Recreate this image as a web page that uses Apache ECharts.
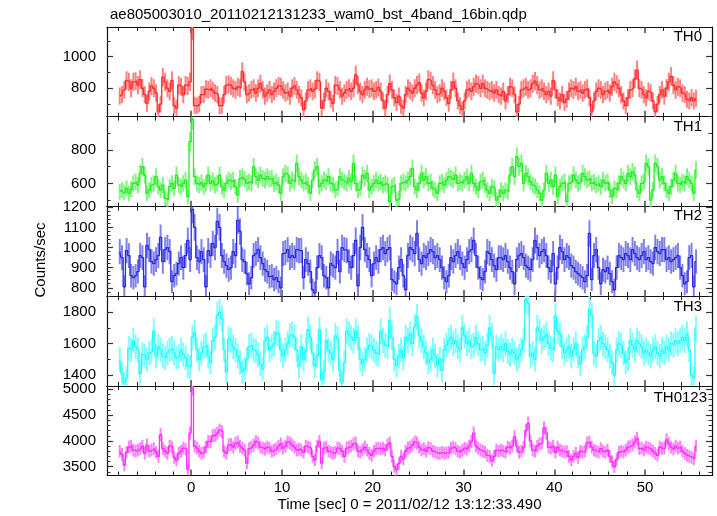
<!DOCTYPE html>
<html><head><meta charset="utf-8">
<script src="https://cdn.jsdelivr.net/npm/echarts@6/dist/echarts.min.js"></script>
<style>html,body{margin:0;padding:0;background:#fff}#c{width:717px;height:516px}</style>
</head><body><div id="c"></div>
<script>
// ---- data (counts/sec, 0.25 s bins starting at t = -8 s) ----
const binStart = -8.0;
const binWidth = 0.25;
const th0 = [
750,760,790,850,840,800,840,845,820,855,800,760,705,780,815,800,
770,650,700,870,840,800,780,850,690,675,820,810,760,820,815,840,
1175,690,690,700,760,760,795,790,800,785,770,760,690,690,760,820,
825,815,800,790,810,800,905,840,760,770,790,800,770,800,830,790,
750,770,790,760,780,800,815,810,790,770,780,750,800,815,790,760,
740,665,720,790,800,780,795,850,840,675,720,800,780,730,705,820,
815,790,750,770,790,800,780,800,885,820,780,760,790,810,795,800,
780,790,805,780,720,675,760,830,790,740,710,750,690,675,760,800,
785,770,800,820,835,770,740,780,855,845,820,790,760,770,800,780,
740,705,790,840,800,720,690,665,720,790,800,780,810,830,820,800,
830,800,790,780,790,770,790,760,750,780,720,760,810,800,760,650,
700,790,800,810,790,800,830,845,820,790,800,780,760,780,750,850,
790,740,720,760,710,730,780,800,790,810,780,790,770,790,800,740,
650,720,780,800,790,760,780,790,770,810,840,825,800,760,720,690,
740,790,800,860,915,800,790,760,740,780,770,720,650,700,760,790,
750,800,840,875,820,790,810,800,770,760,730,720,740,720,735];
const th1 = [
550,560,545,570,540,565,600,610,590,660,700,650,540,560,590,600,
640,580,560,590,510,500,580,600,570,650,590,580,600,620,520,850,
985,640,600,590,605,580,600,650,600,615,590,600,650,580,560,600,
620,610,620,580,530,630,640,625,600,610,600,700,640,620,650,630,
620,640,625,630,600,610,590,540,640,660,650,600,620,610,720,640,
620,600,610,590,540,620,680,700,580,600,620,610,640,600,590,560,
570,640,620,610,600,630,610,720,600,560,570,650,630,660,560,580,
600,620,600,610,590,600,590,490,580,590,500,510,600,610,600,620,
640,690,580,560,600,660,620,640,600,610,570,560,540,600,610,590,
620,640,630,620,650,600,610,600,620,640,600,660,600,580,560,610,
620,590,560,540,580,570,500,520,560,540,560,550,650,700,640,760,
700,720,600,660,640,610,590,580,560,540,500,560,660,600,620,580,
650,520,580,600,610,490,600,610,650,620,600,610,660,640,620,630,
600,610,590,600,580,620,600,610,560,520,570,560,600,640,620,600,
660,640,670,650,560,540,600,610,720,700,500,560,720,700,620,640,
600,560,540,580,620,660,600,590,610,600,640,620,600,540,680];
const th2 = [
980,950,805,985,960,860,850,860,880,960,950,805,1010,990,930,920,
940,960,1050,930,990,1000,980,830,860,870,920,950,900,960,1035,940,
1190,1100,950,930,980,940,805,985,960,1020,1000,1130,1100,960,930,910,
890,900,980,960,1135,1080,940,930,870,820,850,960,970,990,950,920,
890,880,855,860,840,850,830,800,970,975,990,950,960,950,990,985,
985,850,940,920,880,790,775,900,960,950,860,850,800,920,910,900,
980,880,1000,990,985,930,900,960,1035,810,1000,1100,990,960,940,860,
920,950,930,990,1000,970,990,1000,840,830,820,900,940,860,790,960,
1000,990,970,1070,940,920,960,950,970,990,980,950,960,940,900,850,
830,860,950,930,960,980,950,920,900,940,980,990,1035,960,900,850,
840,880,980,970,940,910,890,950,950,940,960,930,900,880,820,940,
960,970,950,910,900,890,940,1035,1000,960,980,990,960,900,880,970,
820,900,1000,980,940,960,950,910,900,880,870,860,850,830,860,1070,
840,960,990,900,820,890,880,900,870,830,790,900,960,950,940,970,
960,940,990,970,950,940,960,980,940,950,930,920,1000,980,970,990,
990,940,950,930,940,950,960,900,860,820,830,950,960,805,930];
const th3 = [
1500,1410,1350,1380,1570,1560,1620,1580,1560,1410,1530,1520,1500,1540,1550,1680,
1520,1580,1560,1520,1510,1540,1560,1570,1540,1510,1520,1560,1530,1510,1460,1450,
1640,1670,1560,1500,1540,1580,1590,1520,1480,1620,1640,1780,1800,1760,1560,1420,
1630,1620,1580,1560,1520,1480,1420,1440,1500,1580,1590,1560,1550,1530,1470,1440,
1620,1640,1560,1580,1600,1670,1660,1560,1520,1560,1600,1650,1660,1640,1560,1455,
1580,1500,1560,1690,1640,1540,1455,1520,1690,1370,1420,1620,1560,1540,1500,1650,
1630,1430,1350,1480,1680,1660,1640,1620,1680,1640,1500,1470,1500,1560,1590,1580,
1560,1540,1530,1680,1620,1590,1580,1750,1640,1500,1460,1520,1560,1510,1640,1620,
1660,1600,1710,1770,1650,1620,1580,1540,1480,1500,1560,1520,1460,1500,1430,1560,
1590,1620,1640,1600,1620,1580,1560,1700,1650,1600,1620,1580,1590,1640,1600,1560,
1570,1540,1590,1700,1650,1410,1580,1560,1580,1560,1600,1550,1530,1560,1540,1500,
1520,1560,1620,1880,1860,1520,1540,1500,1700,1680,1620,1640,1660,1600,1570,1560,
1775,1680,1660,1580,1540,1560,1580,1520,1560,1600,1520,1470,1560,1580,1640,1820,
1780,1540,1520,1620,1640,1600,1580,1560,1520,1480,1400,1560,1600,1590,1540,1480,
1500,1620,1590,1560,1620,1600,1580,1540,1560,1540,1520,1560,1580,1540,1520,1560,
1540,1580,1560,1600,1590,1620,1600,1620,1640,1620,1660,1560,1400,1380,1700];
const th0123 = [
3800,3740,3530,3780,3880,3900,3820,3800,3820,3850,3900,3760,3920,3800,3820,3850,
3780,3700,4120,3850,3800,3760,3900,3880,3680,3630,3760,3800,3860,3840,3450,4150,
5020,3900,3860,3800,3760,3780,3880,3990,3980,4100,4110,4150,4210,4180,3800,3760,
3920,3930,3880,3950,3980,3900,3860,3820,3570,3850,3880,3920,3990,3960,3880,3860,
3840,3880,3860,3800,3820,3850,3900,3940,3860,3900,3980,3960,3920,3880,3820,3840,
3820,3780,3900,3880,3860,3700,3630,3900,3990,3570,3860,3880,3800,3780,3760,3780,
3860,3850,3800,3700,3860,3880,3900,3940,3960,3800,3780,3830,3880,3820,3760,3720,
3800,3850,3860,3840,3860,3820,3920,3960,3700,3500,3440,3560,3700,3650,3800,3860,
3880,3920,3980,3960,3880,3820,3850,3800,3870,3850,3800,3780,3760,3760,3780,3760,
3770,3780,3860,3880,3850,3800,3780,3820,3860,3840,3900,3990,4150,3900,3860,3820,
3800,3780,3720,3700,3620,3700,3820,3800,3820,3800,3780,3880,3860,3900,4080,3900,
3780,3800,3880,4200,4340,4000,3820,3800,3900,3940,3960,4250,4150,3880,3860,3900,
3780,3880,3820,3800,3780,3800,3700,3630,3700,3760,3680,3800,3780,3800,3960,3980,
3880,3820,3800,3780,3850,3800,3780,3820,3700,3600,3500,3640,3780,3800,3780,3820,
3880,3900,3920,3980,4050,3850,3860,3820,3880,3860,3840,3800,3760,3720,3880,3850,
3860,4020,3950,3880,3840,3900,3860,3880,3800,3760,3720,3700,3680,3650,3900];

const panelNames = ['TH0', 'TH1', 'TH2', 'TH3', 'TH0123'];
const panelSeries = [th0, th1, th2, th3, th0123];
const xTickLabels = [0, 10, 20, 30, 40, 50];
const yTickLabels = [
  [800, 1000],
  [600, 800],
  [800, 900, 1000, 1100, 1200],
  [1400, 1600, 1800],
  [3500, 4000, 4500, 5000]
];

// ---- layout / style ----
const titleText = 'ae805003010_20110212131233_wam0_bst_4band_16bin.qdp';
const xTitle = 'Time [sec] 0 = 2011/02/12 13:12:33.490';
const yTitle = 'Counts/sec';
const FONT = '"Liberation Sans", Arial, Helvetica, sans-serif';
const xRange = [-9.28, 57.38];
const yRanges = [[620, 1188], [460, 1000], [759, 1203], [1330, 1904], [3330, 5064]];
const yMinorStep = [100, 100, 20, 100, 100];
const xMinorStep = 2;
const gridTops = [27, 116.7, 206.7, 296, 386];
const gridHeights = [89.7, 90, 89.3, 90, 89.5];
const lineColors = ['#ff2a2a', '#22ee22', '#2a2ae0', '#22ffff', '#ff2aff'];
const errColors = ['#ff8080', '#80f580', '#8080ec', '#80ffff', '#ff80ff'];
const labelPos = [[702, 29], [702, 119], [702, 208], [702, 299], [707, 390]];

function stepTicks(lo, hi, step, exclude) {
  const out = [];
  for (let v = Math.ceil(lo / step) * step; v <= hi + 1e-9; v += step) {
    const r = Math.round(v * 1000) / 1000;
    if (!exclude.includes(r)) out.push(r);
  }
  return out;
}
const xMinor = stepTicks(xRange[0], xRange[1], xMinorStep, xTickLabels);
const plain = v => String(v);

const grids = [], xAxes = [], yAxes = [], series = [];
const AX = { lineStyle: { color: '#111', width: 1.2 } };

panelSeries.forEach((vals, g) => {
  grids.push({ left: 107, right: 5, top: gridTops[g], height: gridHeights[g] });
  const yMinor = stepTicks(yRanges[g][0], yRanges[g][1], yMinorStep[g], yTickLabels[g]);
  const base = { gridIndex: g, type: 'value', min: xRange[0], max: xRange[1], splitLine: { show: false } };
  const isBottom = g === panelSeries.length - 1;
  xAxes.push(Object.assign({}, base, {
    position: 'bottom',
    axisLine: Object.assign({ show: true, onZero: false }, AX),
    axisTick: { show: true, inside: true, length: 6, customValues: xTickLabels, lineStyle: { color: '#444', width: 1.5 } },
    axisLabel: { show: isBottom, customValues: xTickLabels, formatter: plain, margin: 5, fontSize: 15, color: '#000', fontFamily: FONT },
    name: isBottom ? xTitle : '', nameLocation: 'middle', nameGap: 22,
    nameTextStyle: { fontSize: 15, color: '#000', fontFamily: FONT }
  }));
  xAxes.push(Object.assign({}, base, {
    position: 'bottom', axisLine: { show: false, onZero: false },
    axisTick: { show: true, inside: true, length: 4, customValues: xMinor, lineStyle: { color: '#222', width: 1 } },
    axisLabel: { show: false }
  }));
  xAxes.push(Object.assign({}, base, {
    position: 'top',
    axisLine: Object.assign({ show: true, onZero: false }, AX),
    axisTick: { show: true, inside: true, length: 6, customValues: xTickLabels, lineStyle: { color: '#444', width: 1.5 } },
    axisLabel: { show: false }
  }));
  xAxes.push(Object.assign({}, base, {
    position: 'top', axisLine: { show: false, onZero: false },
    axisTick: { show: true, inside: true, length: 4, customValues: xMinor, lineStyle: { color: '#222', width: 1 } },
    axisLabel: { show: false }
  }));

  const ybase = { gridIndex: g, type: 'value', min: yRanges[g][0], max: yRanges[g][1], splitLine: { show: false } };
  yAxes.push(Object.assign({}, ybase, {
    position: 'left',
    axisLine: Object.assign({ show: true, onZero: false }, AX),
    axisTick: { show: true, inside: true, length: 6, customValues: yTickLabels[g], lineStyle: { color: '#333', width: 1.2 } },
    axisLabel: { show: true, customValues: yTickLabels[g], formatter: plain, margin: 11, fontSize: 15, color: '#000', fontFamily: FONT }
  }));
  yAxes.push(Object.assign({}, ybase, {
    position: 'left', axisLine: { show: false, onZero: false },
    axisTick: { show: true, inside: true, length: 3.5, customValues: yMinor, lineStyle: { color: '#333', width: 1 } },
    axisLabel: { show: false }
  }));
  yAxes.push(Object.assign({}, ybase, {
    position: 'right',
    axisLine: Object.assign({ show: true, onZero: false }, AX),
    axisTick: { show: true, inside: true, length: 6, customValues: yTickLabels[g], lineStyle: { color: '#333', width: 1.2 } },
    axisLabel: { show: false }
  }));
  yAxes.push(Object.assign({}, ybase, {
    position: 'right', axisLine: { show: false, onZero: false },
    axisTick: { show: true, inside: true, length: 3.5, customValues: yMinor, lineStyle: { color: '#333', width: 1 } },
    axisLabel: { show: false }
  }));

  const pts = vals.map((v, i) => {
    const t = binStart + binWidth * (i + 0.5);
    const e = Math.sqrt(v / binWidth); // Poisson error of a rate
    return [t, v, v - e, v + e];
  });
  const errColor = errColors[g];
  series.push({
    type: 'custom', xAxisIndex: g * 4, yAxisIndex: g * 4, clip: true, silent: true,
    data: pts.map(p => [p[0], p[2], p[3]]),
    encode: { x: 0, y: [1, 2] },
    renderItem: (params, api) => {
      const a = api.coord([api.value(0), api.value(1)]);
      const b = api.coord([api.value(0), api.value(2)]);
      return { type: 'line', shape: { x1: a[0], y1: a[1], x2: b[0], y2: b[1] },
               style: { stroke: errColor, lineWidth: 2 } };
    }
  });
  series.push({
    type: 'line', step: 'middle', xAxisIndex: g * 4, yAxisIndex: g * 4, clip: true,
    showSymbol: false, silent: true,
    data: pts.map(p => [p[0], p[1]]),
    lineStyle: { color: lineColors[g], width: 1.3 }
  });
});

const graphics = panelNames.map((n, g) => ({
  type: 'text', x: labelPos[g][0], y: labelPos[g][1],
  style: { text: n, fontSize: 15, fontFamily: FONT, fill: '#000', align: 'right', verticalAlign: 'top' }
}));
graphics.push({
  type: 'text', x: 41, y: 260, rotation: Math.PI / 2,
  style: { text: yTitle, fontSize: 15, fontFamily: FONT, fill: '#000', align: 'center', verticalAlign: 'middle' }
});

const chart = echarts.init(document.getElementById('c'), null, { renderer: 'canvas' });
chart.setOption({
  animation: false,
  backgroundColor: '#fff',
  title: { text: titleText, left: 105, top: 2, textStyle: { fontSize: 15, fontWeight: 'normal', color: '#000', fontFamily: FONT } },
  grid: grids, xAxis: xAxes, yAxis: yAxes, series: series, graphic: graphics
});
</script></body></html>
